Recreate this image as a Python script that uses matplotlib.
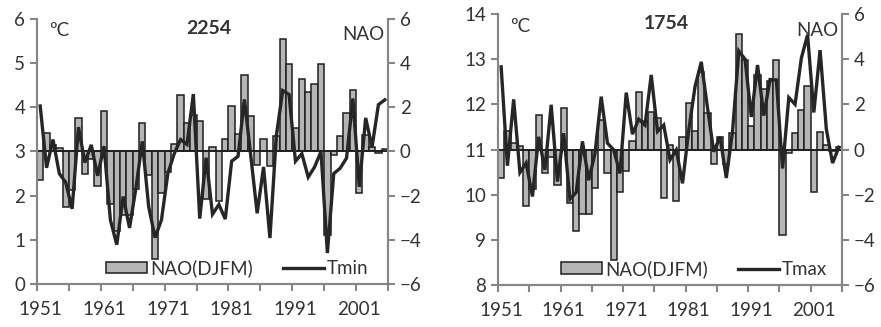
import numpy as np
import matplotlib.pyplot as plt
from matplotlib.patches import Patch
from matplotlib.lines import Line2D

plt.rcParams['font.family'] = ['Lato', 'DejaVu Sans']

years = list(range(1951, 2006))

nao = [-1.28, 0.83, 0.28, 0.15, -2.52, -1.75, 1.52, -1.04, -0.35, -1.57,
       1.84, -2.39, -3.62, -2.86, -2.86, -1.70, 1.29, -1.06, -4.88, -1.90,
       -0.94, 0.36, 2.55, 1.27, 1.66, 1.40, -2.15, 0.20, -2.26, 0.56,
       2.05, 0.80, 3.45, 1.62, -0.63, 0.55, -0.66, 0.72, 5.10, 3.97,
       1.06, 3.29, 2.68, 3.05, 3.97, -3.77, -0.15, 0.71, 1.73, 2.79,
       -1.90, 0.76, 0.20, -0.07, 0.12]

tmin = [4.03, 2.63, 3.27, 2.50, 2.30, 1.70, 3.55, 2.75, 3.15, 2.45,
        3.12, 1.45, 0.89, 1.98, 1.27, 2.17, 3.23, 1.75, 1.05, 1.45,
        2.50, 2.95, 3.27, 3.16, 4.30, 1.48, 2.86, 1.58, 1.80, 1.47,
        2.78, 2.89, 4.18, 2.90, 1.60, 2.65, 1.04, 3.35, 4.38, 4.29,
        2.78, 2.95, 2.42, 2.65, 3.00, 0.70, 2.50, 2.62, 2.85, 4.20,
        2.20, 3.76, 3.10, 4.06, 4.17]

tmax = [12.83, 10.64, 12.11, 10.49, 10.70, 9.96, 11.28, 10.55, 11.99, 10.29,
        11.36, 9.90, 10.05, 11.18, 10.32, 10.91, 12.17, 11.14, 10.99, 10.47,
        12.26, 11.34, 11.67, 11.54, 12.65, 11.40, 11.54, 10.77, 10.99, 10.25,
        11.43, 12.39, 12.94, 11.92, 10.95, 11.28, 10.37, 11.40, 13.18, 13.00,
        11.72, 12.87, 11.75, 12.55, 12.54, 10.58, 12.15, 12.00, 13.02, 13.54,
        11.82, 13.20, 11.45, 10.70, 11.05]

year_labels = [1951, 1961, 1971, 1981, 1991, 2001]

GRAY = '#868686'
BAR = '#b5b5b5'
LINE = '#262626'
TXT = '#333333'
FS = 13.5


def panel(rect, temp, tlim, tname, title, fig):
    ax = fig.add_axes(rect)
    ax2 = ax.twinx()
    ax.set_zorder(ax2.get_zorder() + 1)
    ax.patch.set_visible(False)

    ax2.bar(years, nao, width=1.0, color=BAR, edgecolor='#1e1e1e', linewidth=1.1)
    ax2.axhline(0, color='#1e1e1e', lw=1.3)
    ax.plot(years, temp, color=LINE, lw=2.4, solid_joinstyle='miter')

    ax.set_xlim(1950.5, 2005.5)
    ax.set_ylim(*tlim)
    ax2.set_ylim(-6, 6)
    ax2.set_yticks(range(-6, 7, 2))

    for a in (ax, ax2):
        a.spines['top'].set_visible(False)
        for s in ('left', 'right', 'bottom'):
            a.spines[s].set_color(GRAY)
            a.spines[s].set_linewidth(1.5)
        a.tick_params(axis='y', colors=GRAY, labelcolor=TXT, labelsize=FS,
                      length=5, width=1.5, direction='out')

    ax.set_xticks(np.arange(1950.5, 2006, 5))
    ax.set_xticklabels([])
    ax.tick_params(axis='x', which='major', colors=GRAY, length=5, width=1.5)
    ax.set_xticks(year_labels, minor=True)
    ax.set_xticklabels([str(y) for y in year_labels], minor=True)
    ax.tick_params(axis='x', which='minor', length=0, pad=12, labelsize=FS,
                   labelcolor=TXT)
    ax2.tick_params(axis='x', length=0)

    ax.text(0.035, 0.955, 'ºC', transform=ax.transAxes, fontsize=FS,
            color=TXT, va='center', ha='left')
    ax.text(0.49, 0.965, title, transform=ax.transAxes, fontsize=14,
            fontweight='bold', color=TXT, va='center', ha='center')
    ax.text(0.99, 0.94, 'NAO', transform=ax.transAxes, fontsize=FS,
            color=TXT, va='center', ha='right')

    handles = [Patch(facecolor=BAR, edgecolor='#1e1e1e', linewidth=1.1,
                     label='NAO(DJFM)'),
               Line2D([], [], color=LINE, lw=2.4, label=tname)]
    ax.legend(handles=handles, loc='center', bbox_to_anchor=(0.57, 0.06),
              ncol=2, frameon=False, fontsize=FS, handlelength=2.2,
              handleheight=0.55, handletextpad=0.15, columnspacing=1.6,
              labelcolor=TXT)
    return ax


fig = plt.figure(figsize=(8.81, 3.27), dpi=100)
panel([0.042, 0.1315, 0.3984, 0.8104], tmin, (0, 6), 'Tmin', '2254', fig)
panel([0.5653, 0.1284, 0.3904, 0.8288], tmax, (8, 14), 'Tmax', '1754', fig)
fig.savefig('out.png', dpi=100)
